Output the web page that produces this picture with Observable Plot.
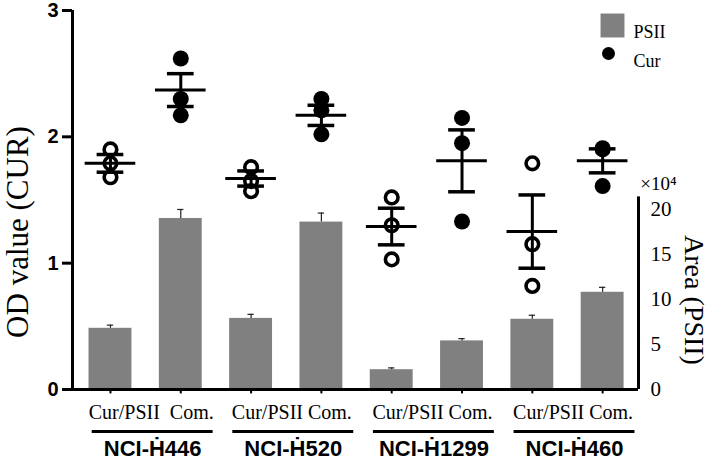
<!DOCTYPE html>
<html><head><meta charset="utf-8">
<script src="https://cdn.jsdelivr.net/npm/d3@7"></script>
<script src="https://cdn.jsdelivr.net/npm/@observablehq/plot@0.6"></script>
<style>body{margin:0;background:#fff} #chart svg{display:block}</style>
</head><body><div id="chart"></div>
<script>
// ---- data ----
const groups = ["NCI-\u1E22446", "NCI-\u1E22520", "NCI-\u1E221299", "NCI-\u1E22460"];
const conditions = ["Cur/PSII", "Com."];
const groupTickLabels = ["Cur/PSII\u00a0\u00a0Com.", "Cur/PSII Com.", "Cur/PSII Com.", "Cur/PSII Com."];
// PSII area (x10^4), one per bar: H446 Cur/PSII, H446 Com., H520 ..., H1299 ..., H460 ...
const psiiArea = [6.8, 19.0, 7.9, 18.6, 2.2, 5.4, 7.8, 10.8];
const psiiErr  = [0.35, 1.0, 0.45, 1.0, 0.2, 0.25, 0.45, 0.55];
// Cur OD values (individual points)
const curValues = [
  [1.90, 1.79, 1.68],
  [2.62, 2.30, 2.17],
  [1.76, 1.65, 1.57],
  [2.30, 2.21, 2.02],
  [1.52, 1.30, 1.03],
  [2.15, 1.95, 1.33],
  [1.79, 1.15, 0.82],
  [1.91, 1.90, 1.61]
];
const curMean = [1.79, 2.37, 1.67, 2.17, 1.29, 1.81, 1.25, 1.81];
const curSem  = [0.07, 0.13, 0.06, 0.08, 0.145, 0.245, 0.29, 0.095];
const odTicks = [0, 1, 2, 3];
const areaTicks = [0, 5, 10, 15, 20];
const areaAxisTop = 21.4;
const legendLabels = ["PSII", "Cur"];

// ---- derived tables ----
const F = 1.425 / 20; // area (x10^4) -> OD axis units
const bars = psiiArea.map((a, i) => ({i, area: a, err: psiiErr[i], cond: conditions[i % 2], group: groups[Math.floor(i / 2)]}));
const stats = curMean.map((m, i) => ({i, mean: m, sem: curSem[i]}));
const points = curValues.flatMap((vals, i) => vals.map(v => ({i, v, filled: i % 2 === 1})));
const grp = groups.map((g, j) => ({j, name: g, sub: groupTickLabels[j]}));
const idx = psiiArea.map((_, i) => i);
const xDom = [-0.54, 7.51];

const serif = "Liberation Serif, Times New Roman, serif";
const sans = "Liberation Sans, Arial, sans-serif";

const chart = Plot.plot({
  width: 709, height: 460,
  marginLeft: 72, marginRight: 71, marginTop: 10, marginBottom: 71,
  x: {domain: xDom, axis: null},
  y: {domain: [0, 3], axis: null},
  style: {background: "#fff", overflow: "visible"},
  marks: [
    // PSII bars
    Plot.rect(bars, {x1: d => d.i - 0.305, x2: d => d.i + 0.305, y1: 0, y2: d => d.area * F, fill: "#808080"}),
    Plot.ruleX(bars, {x: "i", y1: d => d.area * F, y2: d => (d.area + d.err) * F, stroke: "#222", strokeWidth: 1.2}),
    Plot.ruleY(bars, {y: d => (d.area + d.err) * F, x1: d => d.i - 0.045, x2: d => d.i + 0.045, stroke: "#222", strokeWidth: 1.2}),
    // Cur points
    Plot.dot(points.filter(d => !d.filled), {x: "i", y: "v", r: 6.3, fill: "none", stroke: "black", strokeWidth: 3.6}),
    Plot.dot(points.filter(d => d.filled), {x: "i", y: "v", r: 8, fill: "black"}),
    // mean +- SEM
    Plot.ruleX(stats, {x: "i", y1: d => d.mean - d.sem, y2: d => d.mean + d.sem, stroke: "black", strokeWidth: 3}),
    Plot.ruleY(stats, {y: d => d.mean - d.sem, x1: d => d.i - 0.19, x2: d => d.i + 0.19, stroke: "black", strokeWidth: 3.5}),
    Plot.ruleY(stats, {y: d => d.mean + d.sem, x1: d => d.i - 0.19, x2: d => d.i + 0.19, stroke: "black", strokeWidth: 3.5}),
    Plot.ruleY(stats, {y: "mean", x1: d => d.i - 0.36, x2: d => d.i + 0.36, stroke: "black", strokeWidth: 3}),
    // axes lines
    Plot.ruleY([0], {x1: xDom[0], x2: xDom[1], stroke: "black", strokeWidth: 3}),
    Plot.ruleX([xDom[0]], {y1: 0, y2: 3, stroke: "black", strokeWidth: 3}),
    Plot.ruleX([xDom[1]], {y1: 0, y2: areaAxisTop * F, stroke: "black", strokeWidth: 3}),
    Plot.ruleX(idx, {x: d => d, y1: 0, y2: -0.035, stroke: "black", strokeWidth: 2}),
    // left axis
    Plot.axisY({anchor: "left", ticks: odTicks, tickFormat: d => String(d), tickSize: 10, tickPadding: 4, strokeWidth: 3, fontSize: 20, fontWeight: "bold", fontFamily: sans, label: null}),
    // right axis (PSII area)
    Plot.axisY({anchor: "right", ticks: areaTicks.map(v => v * F), tickFormat: d => String(Math.round(d / F)), tickSize: 0, tickPadding: 12, fontSize: 21, fontFamily: serif, label: null}),
    Plot.text(["\u00d710\u2074"], {frameAnchor: "right", y: areaAxisTop * F, dx: 20, dy: -13, fontSize: 19, fontFamily: serif, textAnchor: "middle"}),
    // axis titles
    Plot.text(["OD value (CUR)"], {frameAnchor: "left", dx: -54, dy: 32, rotate: -90, textAnchor: "middle", fontSize: 31, fontFamily: serif}),
    Plot.text(["Area (PSII)"], {frameAnchor: "right", dx: 55, dy: 100, rotate: 90, textAnchor: "middle", fontSize: 28, fontFamily: serif}),
    // category labels, underline, group names
    Plot.text(grp, {x: d => 2 * d.j + 0.58, y: 0, dy: 23, text: "sub", fontSize: 20, fontFamily: serif}),
    Plot.ruleY(grp, {y: 0, x1: d => 2 * d.j - 0.26, x2: d => 2 * d.j + 1.46, dy: 42, stroke: "black", strokeWidth: 3}),
    Plot.text(grp, {x: d => 2 * d.j + 0.6, y: 0, dy: 59, text: "name", fontSize: 22, fontWeight: "bold", fontFamily: sans}),
    // legend
    Plot.dot([legendLabels[0]], {frameAnchor: "top-right", dx: -26, dy: 15, symbol: "square", r: 13.5, fill: "#808080"}),
    Plot.dot([legendLabels[1]], {frameAnchor: "top-right", dx: -30, dy: 43, r: 6.5, fill: "black"}),
    Plot.text([legendLabels[0]], {frameAnchor: "top-right", dx: -5, dy: 15, text: d => d, fontSize: 18, fontFamily: serif, textAnchor: "start"}),
    Plot.text([legendLabels[1]], {frameAnchor: "top-right", dx: -5, dy: 44, text: d => d, fontSize: 18, fontFamily: serif, textAnchor: "start"})
  ]
});
document.getElementById("chart").appendChild(chart);
</script>
</body></html>
